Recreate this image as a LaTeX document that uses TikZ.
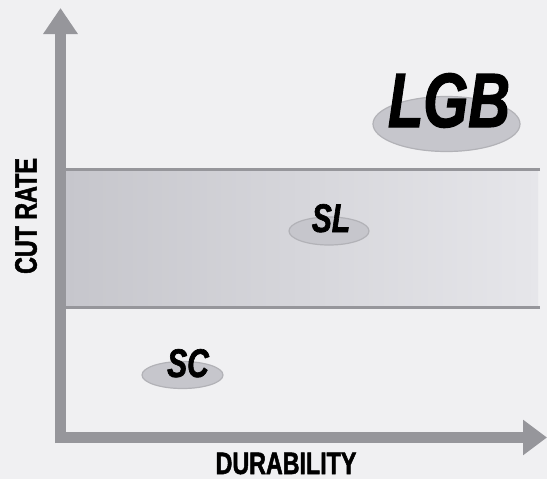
\documentclass[tikz,border=0pt]{standalone}
\usepackage{fontspec}
\newfontfamily\condfont[FakeStretch=0.75,FakeBold=1.6]{Liberation Sans}
\usetikzlibrary{arrows.meta,shapes.geometric}
\definecolor{paper}{HTML}{F0F0F2}
\definecolor{axisgray}{HTML}{96969B}
\definecolor{bandleft}{HTML}{C6C6CC}
\definecolor{bandright}{HTML}{E6E6EA}
\definecolor{blobfill}{HTML}{C6C6CC}
\definecolor{blobline}{HTML}{B2B2B7}

\begin{document}
\begin{tikzpicture}[x=1pt,y=-1pt,
  axis/.style={line width=11pt,draw=axisgray},
  bandline/.style={line width=3pt,draw=axisgray},
  blob/.style={ellipse,draw=blobline,fill=blobfill,line width=1.2pt,inner sep=0pt},
  tag/.style={font=\condfont\bfseries\itshape\fontsize{#1}{#1}\selectfont,anchor=base,inner sep=0pt},
  title/.style={font=\condfont\bfseries\fontsize{31}{32}\selectfont,inner sep=0pt}]
  \useasboundingbox[fill=paper] (0,0) rectangle (547,479);
  %% corners of the middle band
  \coordinate (Band-TL) at (66,169.5);
  \coordinate (Band-BR) at (538,307.5);
  \fill[left color=bandleft,right color=bandright] (Band-TL) rectangle (Band-BR);
  \draw[bandline] (Band-TL) -- (540,169.5);
  \draw[bandline] (Band-TL |- Band-BR) -- (540,307.5);
  %% axes
  \coordinate (Origin) at (55,437.5);
  \coordinate (XTip) at (547,437.5);
  \coordinate (YFoot) at (60.5,443);
  \coordinate (YTip) at (60.5,8);
  \draw[axis,-{Triangle[width=34pt,length=24pt]}] (Origin) -- (XTip);
  \draw[axis,-{Triangle[width=33pt,length=26pt]}] (YFoot) -- (YTip);
  \node[title] (durability) at (286,463.5) {DURABILITY};
  \node[title,rotate=90] (cutrate) at (26,216) {CUT RATE};
  %% the three grades
  \foreach \name/\x/\y/\w/\h in {lgb/446.5/124/147/55,sl/329/231/80/28,sc/182.5/375/81/27}{%
    \node[blob,minimum width=\w,minimum height=\h] (\name-blob) at (\x,\y) {};
  }
  \node[tag=77] (lgb) at (449,127) {LGB};
  \node[tag=40] (sl) at (331,232) {SL};
  \node[tag=40] (sc) at (188,377) {SC};
\end{tikzpicture}
\end{document}
